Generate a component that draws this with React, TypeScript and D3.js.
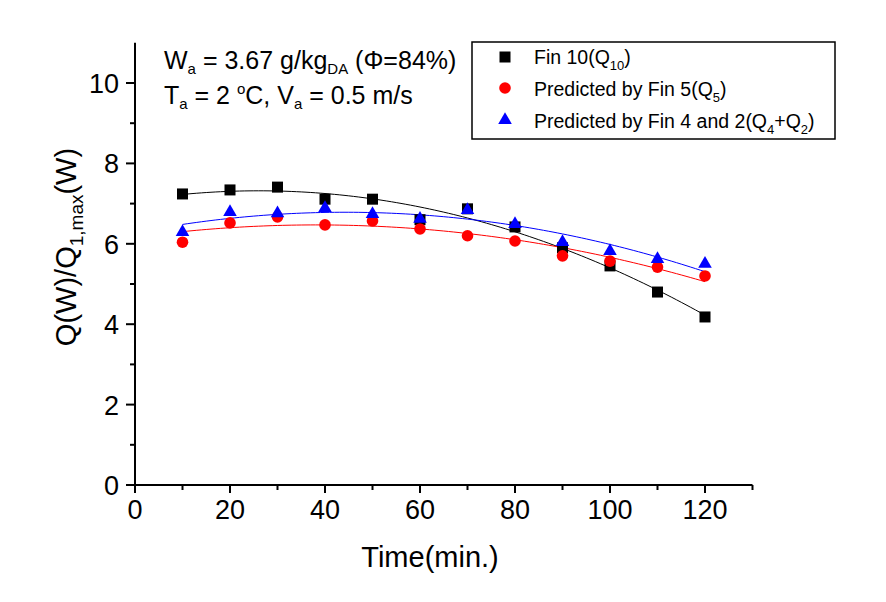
import React from "react";
import * as d3 from "d3";

const times = [10, 20, 30, 40, 50, 60, 70, 80, 90, 100, 110, 120];
const fin10 = [7.24, 7.34, 7.41, 7.11, 7.11, 6.6, 6.87, 6.42, 5.9, 5.45, 4.8, 4.18];
const fin5 = [6.04, 6.52, 6.67, 6.47, 6.57, 6.37, 6.2, 6.07, 5.7, 5.57, 5.42, 5.2];
const fin42 = [6.29, 6.79, 6.76, 6.89, 6.74, 6.62, 6.84, 6.49, 6.04, 5.82, 5.62, 5.5];
const xTicks = [0, 20, 40, 60, 80, 100, 120];
const xMinor = [10, 30, 50, 70, 90, 110, 130];
const yTicks = [0, 2, 4, 6, 8, 10];
const yMinor = [1, 3, 5, 7, 9];

const W = 886, H = 602;
const FONT = "'Liberation Sans', Arial, sans-serif";

function quadFit(xs: number[], ys: number[]) {
  // least squares y = a + b x + c x^2
  const S = [0, 0, 0, 0, 0];
  const T = [0, 0, 0];
  xs.forEach((x, i) => {
    let p = 1;
    for (let k = 0; k < 5; k++) { S[k] += p; p *= x; }
    T[0] += ys[i]; T[1] += ys[i] * x; T[2] += ys[i] * x * x;
  });
  const M = [
    [S[0], S[1], S[2], T[0]],
    [S[1], S[2], S[3], T[1]],
    [S[2], S[3], S[4], T[2]],
  ];
  for (let i = 0; i < 3; i++) {
    for (let j = i + 1; j < 3; j++) {
      const f = M[j][i] / M[i][i];
      for (let k = i; k < 4; k++) M[j][k] -= f * M[i][k];
    }
  }
  const c = M[2][3] / M[2][2];
  const b = (M[1][3] - M[1][2] * c) / M[1][1];
  const a = (M[0][3] - M[0][1] * b - M[0][2] * c) / M[0][0];
  return (x: number) => a + b * x + c * x * x;
}

export default function App() {
  const x = d3.scaleLinear().domain([0, 130]).range([135, 752.5]);
  const y = d3.scaleLinear().domain([0, 11]).range([485, 42.8]);
  const series = [
    { vals: fin10, color: "#000000", shape: "square" },
    { vals: fin5, color: "#ff0000", shape: "circle" },
    { vals: fin42, color: "#0000ff", shape: "triangle" },
  ];
  const fitX = d3.range(10, 120.01, 1);
  const marker = (shape: string, cx: number, cy: number, color: string, k: any) => {
    if (shape === "square") return <rect key={k} x={cx - 5.5} y={cy - 5.5} width={11} height={11} fill={color} />;
    if (shape === "circle") return <circle key={k} cx={cx} cy={cy} r={5.8} fill={color} />;
    const p = d3.symbol().type(d3.symbolTriangle).size(80)();
    return <path key={k} d={p as string} transform={`translate(${cx},${cy})`} fill={color} />;
  };
  return (
    <svg width={W} height={H} style={{ position: "absolute", left: 0, top: 0, background: "#fff" }} fontFamily={FONT}>
      <rect width={W} height={H} fill="#fff" />
      {/* fit curves */}
      {series.map((s, i) => {
        const f = quadFit(times, s.vals);
        const gen = d3.line<number>().x((d) => x(d)).y((d) => y(f(d)));
        return <path key={"f" + i} d={gen(fitX) as string} fill="none" stroke={s.color} strokeWidth={1} />;
      })}
      {/* markers */}
      {series.map((s, i) => (
        <g key={"m" + i}>{times.map((t, j) => marker(s.shape, x(t), y(s.vals[j]), s.color, j))}</g>
      ))}
      {/* axes */}
      <line x1={x(0)} x2={x(130)} y1={y(0)} y2={y(0)} stroke="#000" strokeWidth={2} />
      <line x1={x(0)} x2={x(0)} y1={y(0) + 1} y2={y(11)} stroke="#000" strokeWidth={2} />
      {xTicks.map((t) => (
        <g key={"xt" + t}>
          <line x1={x(t)} x2={x(t)} y1={y(0)} y2={y(0) + 8} stroke="#000" strokeWidth={2} />
          <text x={x(t)} y={519} textAnchor="middle" fontSize={27}>{t}</text>
        </g>
      ))}
      {xMinor.map((t) => (
        <line key={"xm" + t} x1={x(t)} x2={x(t)} y1={y(0)} y2={y(0) + 5} stroke="#000" strokeWidth={2} />
      ))}
      {yTicks.map((t) => (
        <g key={"yt" + t}>
          <line x1={x(0) - 9} x2={x(0)} y1={y(t)} y2={y(t)} stroke="#000" strokeWidth={2} />
          <text x={119} y={y(t) + 10} textAnchor="end" fontSize={27}>{t}</text>
        </g>
      ))}
      {yMinor.map((t) => (
        <line key={"ym" + t} x1={x(0) - 5} x2={x(0)} y1={y(t)} y2={y(t)} stroke="#000" strokeWidth={2} />
      ))}
      {/* axis titles */}
      <text x={430} y={567} textAnchor="middle" fontSize={29}>Time(min.)</text>
      <text transform="translate(76,247) rotate(-90)" textAnchor="middle" fontSize={29}>
        Q(W)/Q<tspan fontSize={19} dy={7}>1,max</tspan><tspan dy={-7}>(W)</tspan>
      </text>
      {/* annotation */}
      <text x={164} y={69} fontSize={25}>
        W<tspan fontSize={15} dy={5}>a</tspan><tspan dy={-5}> = 3.67 g/kg</tspan><tspan fontSize={15} dy={5}>DA</tspan><tspan dy={-5}> (Φ=84%)</tspan>
      </text>
      <text x={164} y={104} fontSize={25}>
        T<tspan fontSize={15} dy={5}>a</tspan><tspan dy={-5}> = 2 </tspan><tspan fontSize={15} dy={-10}>o</tspan><tspan dy={10}>C, V</tspan><tspan fontSize={15} dy={5}>a</tspan><tspan dy={-5}> = 0.5 m/s</tspan>
      </text>
      {/* legend */}
      <rect x={472} y={42} width={363} height={97} fill="#fff" stroke="#000" strokeWidth={1.5} />
      {marker("square", 505, 57, "#000000", "l1")}
      {marker("circle", 505, 88, "#ff0000", "l2")}
      {marker("triangle", 505, 120, "#0000ff", "l3")}
      <text x={534} y={64} fontSize={19.5}>
        Fin 10(Q<tspan fontSize={13} dy={6}>10</tspan><tspan dy={-6}>)</tspan>
      </text>
      <text x={534} y={96} fontSize={19.5}>
        Predicted by Fin 5(Q<tspan fontSize={13} dy={6}>5</tspan><tspan dy={-6}>)</tspan>
      </text>
      <text x={534} y={128} fontSize={19.5}>
        Predicted by Fin 4 and 2(Q<tspan fontSize={13} dy={6}>4</tspan><tspan dy={-6}>+Q</tspan><tspan fontSize={13} dy={6}>2</tspan><tspan dy={-6}>)</tspan>
      </text>
    </svg>
  );
}
